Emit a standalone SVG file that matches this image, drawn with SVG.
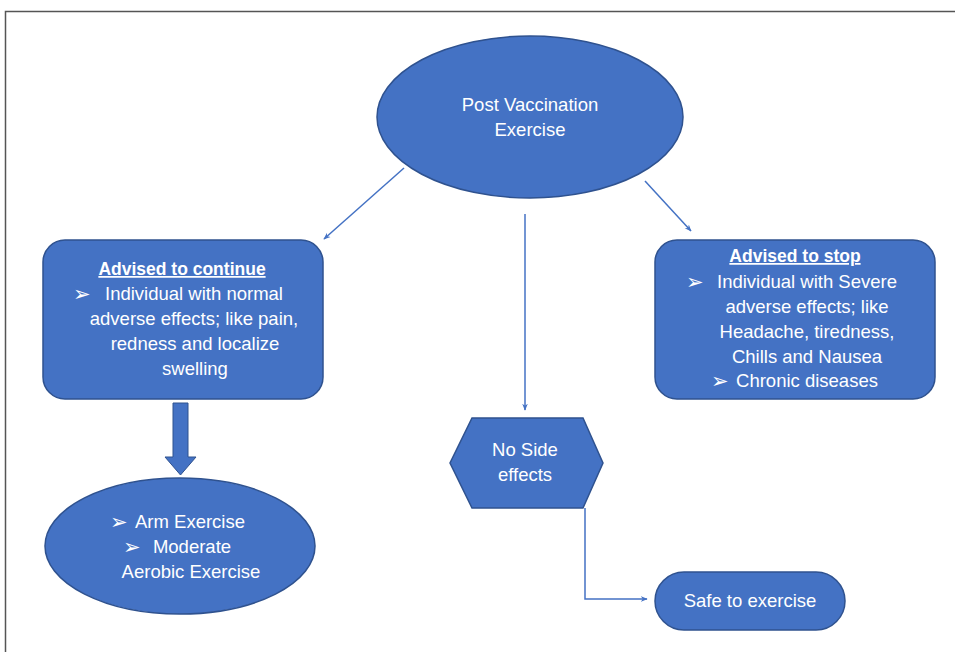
<svg xmlns="http://www.w3.org/2000/svg" width="955" height="652" viewBox="0 0 955 652">
<defs>
<marker id="ah" viewBox="0 0 10 10" refX="9" refY="5" markerWidth="7" markerHeight="7" orient="auto" markerUnits="userSpaceOnUse">
<path d="M0,1 L10,5 L0,9 L3,5 Z" fill="#4472C4"/>
</marker>
<style>
.shape{fill:#4472C4;stroke:#2F528F;stroke-width:1.5}
.t{fill:#ffffff;font-family:"Liberation Sans","DejaVu Sans",sans-serif;font-size:18.5px;text-anchor:middle}
.b{font-weight:bold;text-decoration:underline;font-size:17.5px}
.bul{fill:#ffffff;font-family:"DejaVu Sans",sans-serif;font-size:21px}
.c{fill:none;stroke:#4472C4;stroke-width:1.5}
</style>
</defs>
<rect width="955" height="652" fill="#ffffff"/>
<path d="M5.5,652 V11.5 H955" fill="none" stroke="#555555" stroke-width="1.5"/>

<g id="connectors">
<line class="c" x1="404" y1="168" x2="324" y2="239" marker-end="url(#ah)"/>
<line class="c" x1="645" y1="181" x2="691" y2="231" marker-end="url(#ah)"/>
<line class="c" x1="525" y1="214" x2="525" y2="410" marker-end="url(#ah)"/>
<polyline class="c" points="585,508 585,599 647,599" marker-end="url(#ah)"/>
<path d="M173,403 H188 V457 H196 L180.5,475 L165,457 H173 Z" fill="#4472C4" stroke="#2F528F" stroke-width="1"/>
</g>

<g id="post-vaccination">
<ellipse class="shape" cx="530" cy="117" rx="153" ry="81"/>
<text class="t" x="530" y="111">Post Vaccination</text>
<text class="t" x="530" y="136">Exercise</text>
</g>

<g id="advised-continue">
<rect class="shape" x="43" y="240" width="280" height="159" rx="22"/>
<text class="t b" x="182" y="275">Advised to continue</text>
<text class="bul" x="73" y="301">➢</text>
<text class="t" x="194" y="300">Individual with normal</text>
<text class="t" x="194" y="325">adverse effects; like pain,</text>
<text class="t" x="195" y="350">redness and localize</text>
<text class="t" x="195" y="375">swelling</text>
</g>

<g id="advised-stop">
<rect class="shape" x="655" y="240" width="280" height="159" rx="22"/>
<text class="t b" x="795" y="262">Advised to stop</text>
<text class="bul" x="686" y="289">➢</text>
<text class="t" x="807" y="288">Individual with Severe</text>
<text class="t" x="807" y="313">adverse effects; like</text>
<text class="t" x="807" y="338">Headache, tiredness,</text>
<text class="t" x="807" y="363">Chills and Nausea</text>
<text class="bul" x="711" y="388">➢</text>
<text class="t" x="807" y="387">Chronic diseases</text>
</g>

<g id="no-side-effects">
<polygon class="shape" points="472,418 583,418 603,463 583,508 472,508 450,463"/>
<text class="t" x="525" y="456">No Side</text>
<text class="t" x="525" y="481">effects</text>
</g>

<g id="exercises">
<ellipse class="shape" cx="180" cy="546" rx="135" ry="68"/>
<text class="bul" x="110" y="529">➢</text>
<text class="t" x="190" y="528">Arm Exercise</text>
<text class="bul" x="123" y="554">➢</text>
<text class="t" x="192" y="553">Moderate</text>
<text class="t" x="191" y="578">Aerobic Exercise</text>
</g>

<g id="safe-to-exercise">
<rect class="shape" x="655" y="572" width="190" height="58" rx="29"/>
<text class="t" x="750" y="607">Safe to exercise</text>
</g>
</svg>
